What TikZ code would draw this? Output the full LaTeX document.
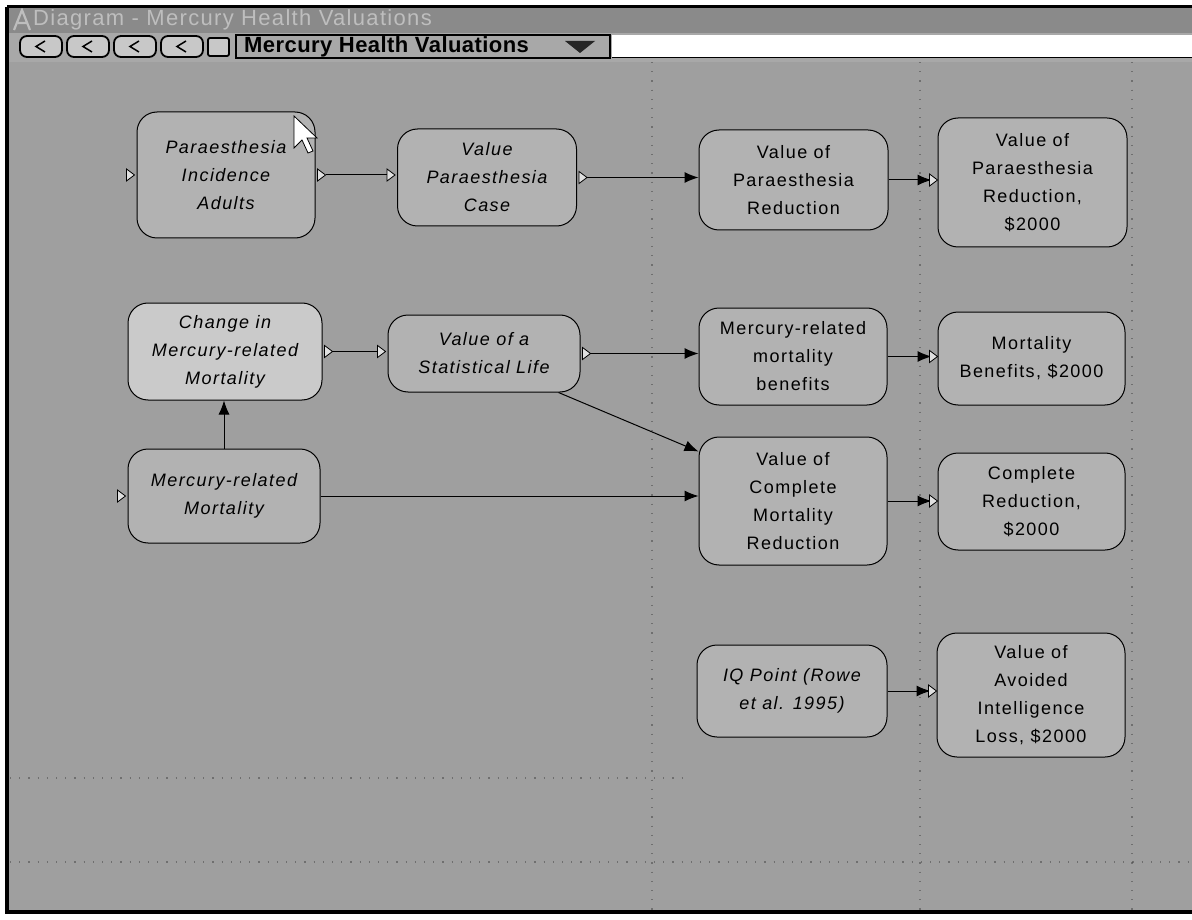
\documentclass[tikz,border=0pt]{standalone}
\usepackage{fontspec}
\setmainfont{Liberation Sans}
\newfontfamily\nodefont{Liberation Sans}[LetterSpace=8]
\newfontfamily\titlefont{Liberation Sans}[LetterSpace=6]
\newfontfamily\ddfont{Liberation Sans}[LetterSpace=2]
\usetikzlibrary{arrows.meta,calc}
\definecolor{canvasgray}{HTML}{9F9F9F}
\definecolor{nodegray}{HTML}{B2B2B2}
\definecolor{lightnode}{HTML}{CACACA}
\definecolor{titlegray}{HTML}{8A8A8A}
\definecolor{titletext}{HTML}{BEBEBE}
\definecolor{toolgray}{HTML}{A8A8A8}
\definecolor{btngray}{HTML}{C8C8C8}
\tikzset{
  bx/.style 2 args={minimum width=#1, minimum height=#2},
  vbox/.style={draw=black, line width=1pt, fill=nodegray, rounded corners=20pt,
    align=center, inner sep=0pt, font=\nodefont\fontsize{18}{28}\selectfont},
  ibox/.style={vbox, font=\nodefont\itshape\fontsize{18}{28}\selectfont},
  conn/.style={draw=black, line width=1pt},
  tip/.style={conn, -{Latex[length=14pt,width=11pt]}},
  gridline/.style={draw=black!75, line width=1.2pt, dash pattern=on 1.2pt off 8pt, opacity=0.5},
  mk/.pic={\filldraw[fill=black!12, draw=black, line width=0.8pt] (0,-6) -- (8,0) -- (0,6) -- cycle;},
}
\begin{document}
\begin{tikzpicture}[x=1pt,y=-1pt]
\useasboundingbox (0,0) rectangle (1192,920);
\fill[white] (0,0) rectangle (1192,920);
% window
\fill[canvasgray] (7,7) rectangle (1192,912);
% page grid
\draw[gridline] (10,778) -- (690,778);
\draw[gridline] (10,862) -- (1192,862);
\draw[gridline] (652,62) -- (652,910);
\draw[gridline] (920,62) -- (920,910);
\draw[gridline] (1132,62) -- (1132,910);
% title bar
\fill[titlegray] (8,8) rectangle (1192,33);
\draw[titletext, line width=2.2pt] (14,30) -- (22,10) -- (30,30) (18,23) -- (26,23);
\node[anchor=west, text=titletext, font=\titlefont\fontsize{22}{24}\selectfont, inner sep=0pt] (title) at (33,20) {Diagram - Mercury Health Valuations};
% toolbar
\fill[toolgray] (8,33) rectangle (1192,62);
\fill[white] (612,35) rectangle (1192,57);
\draw[black, line width=1pt] (612,58) -- (1192,58);
\foreach \i in {0,1,2,3} {
  \draw[black, line width=1.8pt, fill=btngray, rounded corners=7pt] (20+47*\i,36) rectangle (62+47*\i,57);
  \draw[black, line width=1.5pt] (45+47*\i,41) -- (36+47*\i,46.5) -- (45+47*\i,52);
}
\draw[black, line width=1.8pt, fill=btngray, rounded corners=2pt] (208,38) rectangle (229,56);
\draw[black, line width=1.8pt, fill=toolgray] (236,35) rectangle (610,58);
\node[anchor=west, font=\ddfont\bfseries\fontsize{22}{24}\selectfont, inner sep=0pt] (dd) at (244,47) {Mercury Health Valuations};
\fill[black!85] (565,41) -- (595,41) -- (580,53) -- cycle;
% frame
\draw[black, line width=3pt] (7,7) -- (1192,7);
\draw[black, line width=3.5pt] (7,7) -- (7,912) -- (1192,912);

% nodes
\node[ibox, bx={178}{126}] (n1) at (226,175) {Paraesthesia\\Incidence\\Adults};
\node[ibox, bx={179}{97}] (n2) at (487,177.5) {Value\\Paraesthesia\\Case};
\node[vbox, bx={189}{100}] (n3) at (793.5,180) {Value of\\Paraesthesia\\Reduction};
\node[vbox, bx={189}{129}] (n4) at (1032.5,182.5) {Value of\\Paraesthesia\\Reduction,\\\$2000};
\node[ibox, fill=lightnode, bx={194}{97}] (n5) at (225,351.5) {Change in\\Mercury-related\\Mortality};
\node[ibox, bx={192}{77}] (n6) at (484,353.5) {Value of a\\Statistical Life};
\node[vbox, bx={188}{97}] (n7) at (793,356.5) {Mercury-related\\mortality\\benefits};
\node[vbox, bx={187}{93}] (n8) at (1031.5,358.5) {Mortality\\Benefits, \$2000};
\node[ibox, bx={192}{94}] (n9) at (224,496) {Mercury-related\\Mortality};
\node[vbox, bx={188}{128}] (n10) at (793,501) {Value of\\Complete\\Mortality\\Reduction};
\node[vbox, bx={187}{97}] (n11) at (1031.5,501.5) {Complete\\Reduction,\\\$2000};
\node[ibox, bx={190}{92}] (n12) at (792,691) {IQ Point (Rowe\\et al. 1995)};
\node[vbox, bx={188}{124}] (n13) at (1031,695) {Value of\\Avoided\\Intelligence\\Loss, \$2000};

% cursor
\filldraw[fill=white, draw=black, line width=0.8pt] (294,116) -- (294,148) -- (302,140) -- (308,153) -- (313,151) -- (307,138) -- (317,138) -- cycle;

% connectors
\draw[conn] ([xshift=10pt]n1.east) -- ([xshift=-10pt]n2.west |- n1.east);
\draw[tip] ([xshift=10pt]n2.east) -- (n2.east -| n3.west);
\draw[tip] (n3.east) -- ([xshift=-6pt]n3.east -| n4.west);
\draw[conn] ([xshift=10pt]n5.east) -- ([xshift=-10pt]n6.west |- n5.east);
\draw[tip] ([xshift=10pt]n6.east) -- (n6.east -| n7.west);
\draw[tip] ([xshift=-22pt]n6.south east) -- ([yshift=-15pt]n10.north west);
\draw[tip] (n7.east) -- ([xshift=-6pt]n7.east -| n8.west);
\draw[tip] (n9.north) -- (n9.north |- n5.south);
\draw[tip] (n9.east) -- (n9.east -| n10.west);
\draw[tip] (n10.east) -- ([xshift=-6pt]n10.east -| n11.west);
\draw[tip] (n12.east) -- ([xshift=-6pt]n12.east -| n13.west);

% port markers
\pic at ([xshift=-10pt]n1.west) {mk};
\pic at ([xshift=2pt]n1.east) {mk};
\pic at ([xshift=-10pt]n2.west |- n1.east) {mk};
\pic at ([xshift=2pt]n2.east) {mk};
\pic at ([xshift=-8pt]n3.east -| n4.west) {mk};
\pic at ([xshift=2pt]n5.east) {mk};
\pic at ([xshift=-10pt]n6.west |- n5.east) {mk};
\pic at ([xshift=2pt]n6.east) {mk};
\pic at ([xshift=-8pt]n7.east -| n8.west) {mk};
\pic at ([xshift=-10pt]n9.west) {mk};
\pic at ([xshift=-8pt]n10.east -| n11.west) {mk};
\pic at ([xshift=-8pt]n12.east -| n13.west) {mk};
\end{tikzpicture}
\end{document}
